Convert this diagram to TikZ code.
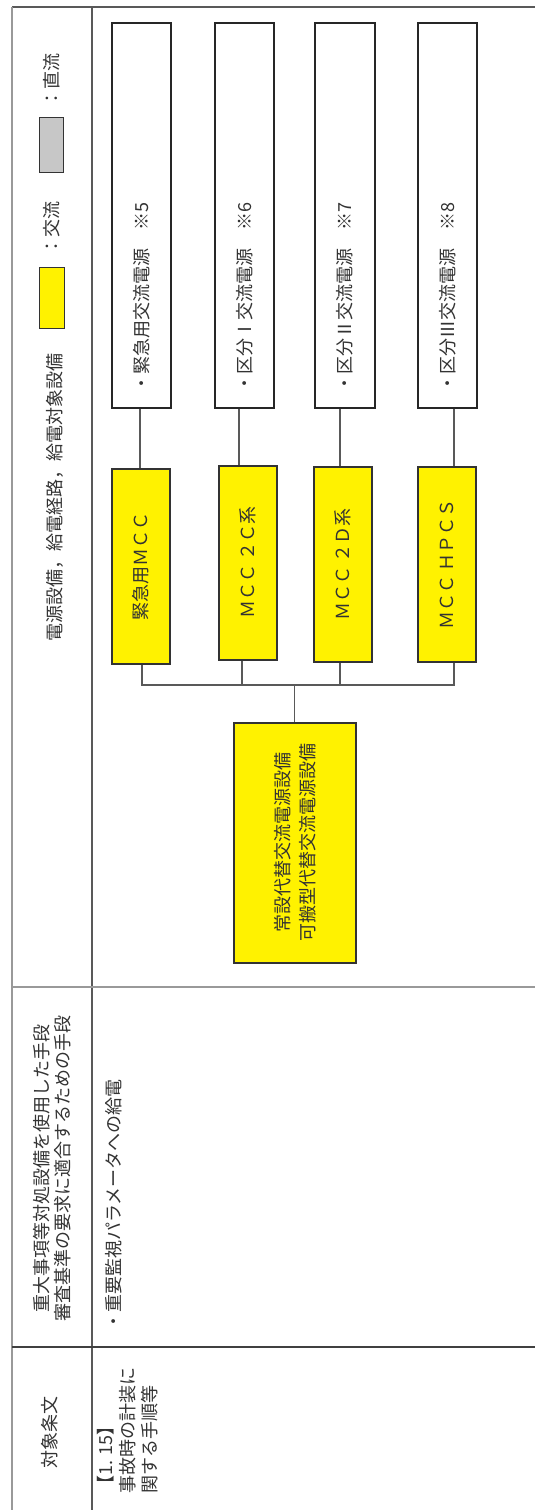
\documentclass[tikz,border=0pt]{standalone}
\usepackage{fontspec}
\setmainfont{Noto Sans CJK JP}
\begin{document}
\begin{tikzpicture}[x=1pt,y=-1pt,
  txt/.style={font=\fontsize{18}{21}\selectfont, text=black!80, inner sep=0pt, rotate=90},
  tbox/.style={draw=black!85, line width=1.5pt, fill=white, inner sep=0pt, anchor=north west},
  ybox/.style={draw=black!80, line width=1.5pt, fill=yellow, inner sep=0pt, anchor=north west},
  wire/.style={draw=black!65, line width=1.3pt},
  rulea/.style={draw=black!65, line width=1.5pt},
  ruleb/.style={draw=black!40, line width=2pt}]
\useasboundingbox (0,0) rectangle (535,1510);
\fill[white] (0,0) rectangle (535,1510);

% table rules
\draw[rulea] (535,7) -- (12,7);
\draw[ruleb] (12,7) -- (12,1510);
\draw[rulea] (92,7) -- (92,1510);
\draw[ruleb] (12,987) -- (535,987);
\draw[rulea, line width=2pt, draw=black!75] (12,1347) -- (535,1347);

% header texts
\node[txt] (h3) at (55,497) {電源設備，給電経路，給電対象設備};
\node[ybox, line width=1.2pt, minimum width=25pt, minimum height=61pt] (ly) at (39,267) {};
\node[txt] (lyt) at (52,228) {：交流};
\node[ybox, fill=black!22, line width=1.2pt, minimum width=24pt, minimum height=55pt] (lg) at (39,117) {};
\node[txt] (lgt) at (52,80) {：直流};
\node[txt, align=center] (h2) at (52,1168) {重大事項等対処設備を使用した手段\\審査基準の要求に適合するための手段};
\node[txt] (h1) at (50,1432) {対象条文};

% body texts
\node[txt, anchor=north west, align=left, font=\fontsize{18}{22}\selectfont] (b1) at (97,1494) {【1. 15】\\事故時の計装に\\関する手順等};
\node[txt, anchor=west] (b2) at (114,1331) {・重要監視パラメータへの給電};

% target boxes
\node[tbox, minimum width=59pt, minimum height=385pt] (t1) at (111,22) {};
\node[tbox, minimum width=59pt, minimum height=385pt] (t2) at (214,22) {};
\node[tbox, minimum width=60pt, minimum height=385pt] (t3) at (314,22) {};
\node[tbox, minimum width=59pt, minimum height=385pt] (t4) at (417,22) {};
\node[txt, anchor=west] (t1l) at ([yshift=16pt]t1.south) {・緊急用交流電源　※5};
\node[txt, anchor=west] (t2l) at ([yshift=16pt]t2.south) {・区分Ⅰ交流電源　※6};
\node[txt, anchor=west] (t3l) at ([yshift=16pt]t3.south) {・区分Ⅱ交流電源　※7};
\node[txt, anchor=west] (t4l) at ([yshift=16pt]t4.south) {・区分Ⅲ交流電源　※8};

% MCC boxes
\node[ybox, minimum width=58pt, minimum height=195pt] (m1) at (111,468) {};
\node[ybox, minimum width=58pt, minimum height=194pt] (m2) at (218,465) {};
\node[ybox, minimum width=58pt, minimum height=195pt] (m3) at (313,466) {};
\node[ybox, minimum width=58pt, minimum height=195pt] (m4) at (417,466) {};
\node[txt] (m1l) at (m1.center) {緊急用ＭＣＣ};
\node[txt] (m2l) at (m2.center) {ＭＣＣ ２Ｃ系};
\node[txt] (m3l) at (m3.center) {ＭＣＣ ２Ｄ系};
\node[txt] (m4l) at (m4.center) {ＭＣＣ ＨＰＣＳ};

% source box
\node[ybox, minimum width=122pt, minimum height=240pt] (bs) at (233,722) {};
\node[txt, align=center, font=\fontsize{18}{25}\selectfont] (bsl) at (bs.center) {常設代替交流電源設備\\可搬型代替交流電源設備};

% connectors
\coordinate (c1) at (140,0);
\coordinate (c2) at (239,0);
\coordinate (c3) at (340,0);
\coordinate (c4) at (454,0);
\coordinate (d1) at (142,0);
\coordinate (d2) at (242,0);
\coordinate (bus) at (0,685);
\draw[wire] (t1.south -| c1) -- (m1.north -| c1);
\draw[wire] (t2.south -| c2) -- (m2.north -| c2);
\draw[wire] (t3.south -| c3) -- (m3.north -| c3);
\draw[wire] (t4.south -| c4) -- (m4.north -| c4);
\draw[wire] (m1.south -| d1) -- (bus -| d1) -- (bus -| c4) -- (m4.south -| c4);
\draw[wire] (m2.south -| d2) -- (bus -| d2);
\draw[wire] (m3.south -| c3) -- (bus -| c3);
\draw[wire] (bs.north) -- (bs.north |- bus);
\end{tikzpicture}
\end{document}
